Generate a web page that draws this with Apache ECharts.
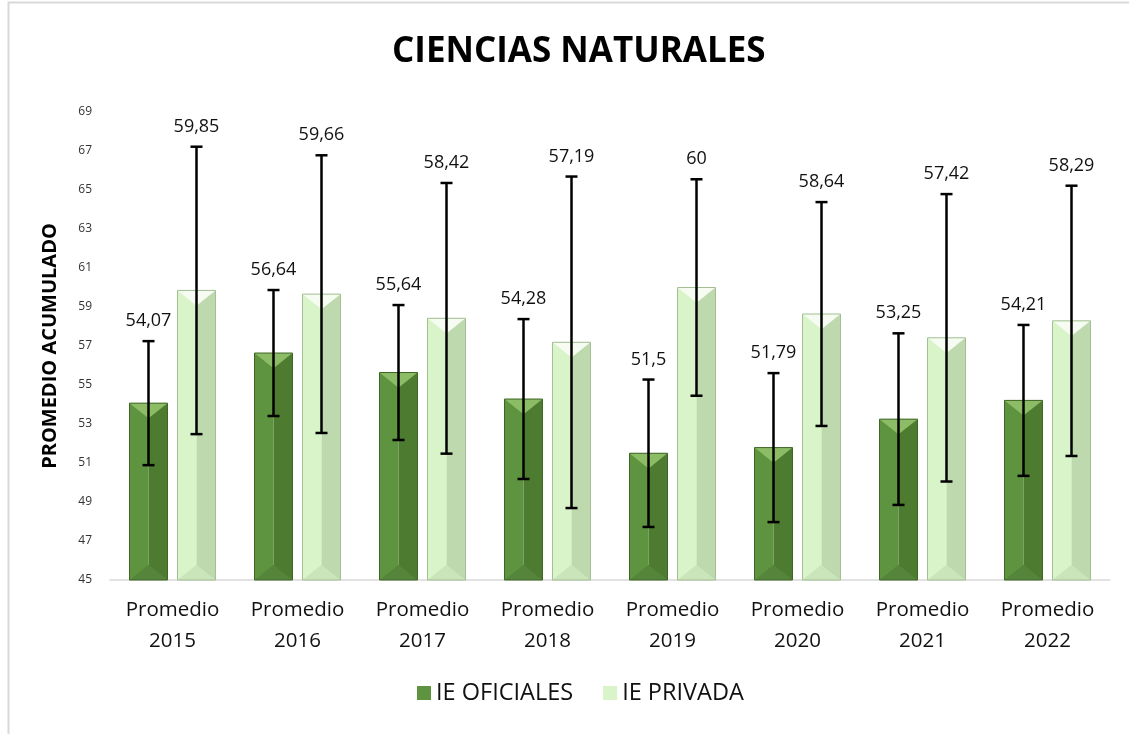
<!DOCTYPE html>
<html>
<head>
<meta charset="utf-8">
<script src="https://cdn.jsdelivr.net/npm/echarts@6/dist/echarts.min.js"></script>
<style>
  html, body { margin: 0; padding: 0; background: #fff; }
  #chart { width: 1129px; height: 734px; }
</style>
</head>
<body>
<div id="chart"></div>
<script>
// datos
const categories = ['Promedio\n2015', 'Promedio\n2016', 'Promedio\n2017', 'Promedio\n2018',
  'Promedio\n2019', 'Promedio\n2020', 'Promedio\n2021', 'Promedio\n2022']
const oficiales = [54.07, 56.64, 55.64, 54.28, 51.5, 51.79, 53.25, 54.21]
const privada = [59.85, 59.66, 58.42, 57.19, 60, 58.64, 57.42, 58.29]
// desviaciones (barras de error) estimadas
const errOficiales = [3.18, 3.23, 3.46, 4.1, 3.78, 3.82, 4.4, 3.87]
const errPrivada = [7.37, 7.12, 6.94, 8.5, 5.55, 5.74, 7.37, 6.93]
const yTicks = { min: 45, max: 69, step: 2 }

const FONT = 'Open Sans'

const palette = {
  oficial: { left: '#5e9440', right: '#4d7c30', top: '#8cbd66', bottom: '#55853a', edge: '#3f6626' },
  privada: { left: '#d8f4c8', right: '#bfd9ae', top: '#f6fcf1', bottom: '#cbe5bb', edge: '#a3bf93' }
}

function barGeom(api, side) {
  const catW = api.size([1, 0])[0]
  const bw = catW * 0.304
  const gap = catW * 0.08
  const cx = api.coord([api.value(0), yTicks.min])[0] + side * (bw + gap) / 2
  return { cx, bw }
}

function bevelSeries(name, vals, col, side) {
  return {
    type: 'custom',
    name,
    itemStyle: { color: col.left },
    data: vals.map((v, i) => [i, v]),
    z: 2,
    renderItem: function(params, api) {
      const g = barGeom(api, side)
      const x0 = g.cx - g.bw / 2
      const x1 = g.cx + g.bw / 2
      const top = api.coord([api.value(0), api.value(1)])[1]
      const base = api.coord([api.value(0), yTicks.min])[1]
      const d = g.bw * 0.4
      return {
        type: 'group',
        children: [
          { type: 'rect', shape: { x: x0, y: top, width: g.cx - x0, height: base - top }, style: { fill: col.left } },
          { type: 'rect', shape: { x: g.cx, y: top, width: x1 - g.cx, height: base - top }, style: { fill: col.right } },
          { type: 'polygon', shape: { points: [[x0, top], [x1, top], [g.cx, top + d]] }, style: { fill: col.top } },
          { type: 'polygon', shape: { points: [[x0, base], [x1, base], [g.cx, base - d]] }, style: { fill: col.bottom } },
          { type: 'rect', shape: { x: x0, y: top, width: g.bw, height: base - top }, style: { fill: 'none', stroke: col.edge, lineWidth: 1 } }
        ]
      }
    }
  }
}

function errorSeries(vals, errs, side) {
  return {
    type: 'custom',
    name: 'err' + side,
    data: vals.map((v, i) => [i, v, v - errs[i], v + errs[i]]),
    z: 5,
    silent: true,
    renderItem: function(params, api) {
      const g = barGeom(api, side)
      const hi = api.coord([api.value(0), api.value(3)])[1]
      const lo = api.coord([api.value(0), api.value(2)])[1]
      const cap = 6
      const st = { stroke: '#000', lineWidth: 2.5 }
      const txt = String(api.value(1)).replace('.', ',')
      return {
        type: 'group',
        children: [
          { type: 'line', shape: { x1: g.cx, y1: hi, x2: g.cx, y2: lo }, style: st },
          { type: 'line', shape: { x1: g.cx - cap, y1: hi, x2: g.cx + cap, y2: hi }, style: st },
          { type: 'line', shape: { x1: g.cx - cap, y1: lo, x2: g.cx + cap, y2: lo }, style: st },
          { type: 'text', x: g.cx, y: hi - 11, style: { text: txt, fill: '#111', font: '18px "' + FONT + '"', align: 'center', verticalAlign: 'bottom' } }
        ]
      }
    }
  }
}

const myChart = echarts.init(document.getElementById('chart'))
const option = {
  animation: false,
  textStyle: { fontFamily: FONT },
  graphic: [{
    type: 'rect', silent: true, z: -10,
    shape: { x: 8.5, y: 2.5, width: 1300, height: 900 },
    style: { fill: 'none', stroke: '#d9d9d9', lineWidth: 2 }
  }],
  title: {
    text: 'CIENCIAS NATURALES',
    left: 387,
    top: 30,
    textStyle: { fontSize: 35, fontWeight: 'bold', color: '#000', fontFamily: FONT }
  },
  legend: {
    data: ['IE OFICIALES', 'IE PRIVADA'],
    bottom: 24,
    left: 412,
    icon: 'rect',
    itemWidth: 14,
    itemHeight: 14,
    itemGap: 30,
    textStyle: { fontSize: 23.5, color: '#111', fontFamily: FONT }
  },
  grid: { left: 110, width: 1000, top: 112, height: 468 },
  xAxis: {
    type: 'category',
    data: categories,
    axisTick: { show: false },
    axisLine: { lineStyle: { color: '#d9d9d9', width: 1.5 } },
    axisLabel: { fontSize: 20.5, color: '#111', lineHeight: 31, margin: 15 }
  },
  yAxis: {
    type: 'value',
    min: yTicks.min,
    max: yTicks.max,
    interval: yTicks.step,
    splitLine: { show: false },
    axisLine: { show: false },
    axisTick: { show: false },
    axisLabel: { fontSize: 12, color: '#333', margin: 18 },
    name: 'PROMEDIO ACUMULADO',
    nameLocation: 'middle',
    nameRotate: 90,
    nameGap: 50,
    nameTextStyle: { fontSize: 20, fontWeight: 'bold', color: '#000' }
  },
  series: [
    bevelSeries('IE OFICIALES', oficiales, palette.oficial, -1),
    bevelSeries('IE PRIVADA', privada, palette.privada, 1),
    errorSeries(oficiales, errOficiales, -1),
    errorSeries(privada, errPrivada, 1)
  ]
}
option && myChart.setOption(option)
</script>
</body>
</html>
